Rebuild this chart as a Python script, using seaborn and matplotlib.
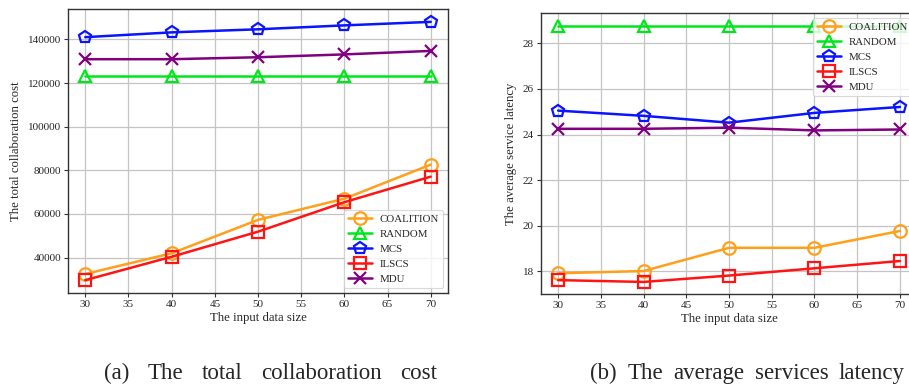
import matplotlib
matplotlib.use("Agg")
import matplotlib.pyplot as plt
import seaborn as sns
import numpy as np

sizes = [30, 40, 50, 60, 70]
methods = ["COALITION", "RANDOM", "MCS", "ILSCS", "MDU"]

cost_coalition = [32500, 42000, 57300, 67000, 82600]
cost_random = [123000, 123000, 123000, 123000, 123000]
cost_mcs = [141000, 143200, 144600, 146400, 148000]
cost_ilscs = [29700, 40400, 51900, 65400, 77100]
cost_mdu = [130900, 130900, 131800, 133100, 134700]

lat_coalition = [17.90, 18.00, 19.02, 19.02, 19.76]
lat_random = [28.78, 28.78, 28.78, 28.78, 28.78]
lat_mcs = [25.05, 24.82, 24.52, 24.95, 25.21]
lat_ilscs = [17.60, 17.52, 17.80, 18.12, 18.44]
lat_mdu = [24.25, 24.25, 24.30, 24.18, 24.22]

captions = ["(a) The total collaboration cost", "(b) The average services latency"]

colors = ["#ff9f1a", "#00e61a", "#0a14ff", "#ff1414", "#800080"]
markers = ["o", "^", "p", "s", "x"]

sns.set_theme(style="whitegrid")
plt.rcParams["font.family"] = ["Liberation Serif", "DejaVu Serif"]

fig = plt.figure(figsize=(9.09, 3.85), dpi=100)
W, H = 909, 385
ax1 = fig.add_axes([68 / W, (H - 293) / H, 380 / W, 284 / H])
ax2 = fig.add_axes([541 / W, (H - 294) / H, 376 / W, 281 / H])


def draw(ax, series, ylabel, yticks, legend_loc):
    for name, vals, c, m in zip(methods, series, colors, markers):
        sns.lineplot(x=sizes, y=vals, ax=ax, color=c, marker=m, markersize=9,
                     markerfacecolor="none", markeredgecolor=c, markeredgewidth=1.6,
                     linewidth=1.8, label=name)
    ax.set_xticks(np.arange(30, 71, 5))
    ax.set_yticks(yticks)
    ax.set_xlim(28, 72)
    ax.set_xlabel("The input data size", fontsize=9.2, labelpad=2)
    ax.set_ylabel(ylabel, fontsize=9.2, labelpad=4)
    ax.tick_params(axis="both", labelsize=8, length=3, width=0.8,
                   direction="out", color="#333333", pad=2, left=True, bottom=True)
    ax.grid(True, color="#c4c4c4", linewidth=0.9)
    for s in ax.spines.values():
        s.set_color("#333333")
        s.set_linewidth(1.0)
    leg = ax.legend(loc=legend_loc, fontsize=7.8, frameon=True, framealpha=0.8,
                    edgecolor="#d0d0d0", handlelength=2.2, borderpad=0.4,
                    labelspacing=0.5, handletextpad=0.7, borderaxespad=0.45)
    leg.get_frame().set_linewidth(0.8)


draw(ax1, [cost_coalition, cost_random, cost_mcs, cost_ilscs, cost_mdu],
     "The total collaboration cost", np.arange(40000, 140001, 20000), "lower right")
ax1.set_ylim(23800, 153900)

draw(ax2, [lat_coalition, lat_random, lat_mcs, lat_ilscs, lat_mdu],
     "The average service latency", np.arange(18, 29, 2), "upper right")
ax2.set_ylim(16.99, 29.34)


def justified_caption(text, x0, x1, baseline, size=16.5):
    """Lay the words of a caption out so they fill the span x0..x1 (pixels)."""
    renderer = fig.canvas.get_renderer()
    words = text.split()
    items = [fig.text(0, 1 - baseline / H, w, fontsize=size, ha="left", va="baseline")
             for w in words]
    widths = [t.get_window_extent(renderer).width for t in items]
    gap = (x1 - x0 - sum(widths)) / (len(words) - 1)
    x = x0
    for t, w in zip(items, widths):
        t.set_x(x / W)
        x += w + gap


fig.canvas.draw()
justified_caption(captions[0], 104, 437, 379)
justified_caption(captions[1], 590, 905, 379)

fig.savefig("out.png", dpi=100)
